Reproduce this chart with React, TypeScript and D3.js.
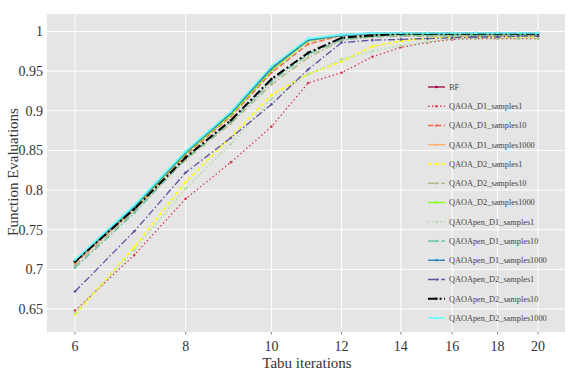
import * as d3 from "d3";
import React from "react";

// tabu iterations (x values)
const iterations = [6, 7, 8, 9, 10, 11, 12, 13, 14, 15, 16, 17, 18, 19, 20];

const seriesNames = [
  "BF",
  "QAOA_D1_samples1",
  "QAOA_D1_samples10",
  "QAOA_D1_samples1000",
  "QAOA_D2_samples1",
  "QAOA_D2_samples10",
  "QAOA_D2_samples1000",
  "QAOApen_D1_samples1",
  "QAOApen_D1_samples10",
  "QAOApen_D1_samples1000",
  "QAOApen_D2_samples1",
  "QAOApen_D2_samples10",
  "QAOApen_D2_samples1000",
];

const bf = [0.711, 0.780, 0.848, 0.898, 0.954, 0.990, 0.996, 0.998, 0.998, 0.998, 0.998, 0.998, 0.998, 0.998, 0.998];
const qaoaD1s1 = [0.648, 0.718, 0.789, 0.835, 0.880, 0.935, 0.948, 0.968, 0.980, 0.986, 0.990, 0.991, 0.991, 0.991, 0.991];
const qaoaD1s10 = [0.708, 0.776, 0.844, 0.893, 0.948, 0.984, 0.995, 0.996, 0.996, 0.996, 0.996, 0.995, 0.995, 0.995, 0.995];
const qaoaD1s1000 = [0.711, 0.779, 0.847, 0.896, 0.952, 0.988, 0.995, 0.997, 0.997, 0.997, 0.997, 0.997, 0.997, 0.997, 0.997];
const qaoaD2s1 = [0.643, 0.728, 0.810, 0.867, 0.920, 0.946, 0.962, 0.981, 0.988, 0.991, 0.993, 0.993, 0.993, 0.993, 0.993];
const qaoaD2s10 = [0.705, 0.773, 0.838, 0.884, 0.933, 0.967, 0.989, 0.993, 0.994, 0.994, 0.994, 0.994, 0.994, 0.994, 0.994];
const qaoaD2s1000 = [0.710, 0.778, 0.846, 0.895, 0.951, 0.988, 0.995, 0.997, 0.997, 0.997, 0.997, 0.997, 0.997, 0.997, 0.997];
const penD1s1 = [0.645, 0.724, 0.802, 0.858, 0.915, 0.946, 0.965, 0.975, 0.982, 0.987, 0.991, 0.991, 0.991, 0.991, 0.991];
const penD1s10 = [0.702, 0.771, 0.840, 0.886, 0.937, 0.971, 0.990, 0.994, 0.995, 0.995, 0.995, 0.995, 0.995, 0.995, 0.995];
const penD1s1000 = [0.710, 0.779, 0.847, 0.897, 0.953, 0.989, 0.995, 0.997, 0.997, 0.997, 0.997, 0.997, 0.997, 0.997, 0.997];
const penD2s1 = [0.672, 0.748, 0.822, 0.866, 0.908, 0.952, 0.986, 0.989, 0.990, 0.991, 0.992, 0.993, 0.993, 0.994, 0.994];
const penD2s10 = [0.710, 0.776, 0.841, 0.888, 0.940, 0.973, 0.992, 0.995, 0.997, 0.997, 0.997, 0.997, 0.997, 0.997, 0.997];
const penD2s1000 = [0.712, 0.781, 0.849, 0.899, 0.956, 0.991, 0.996, 0.998, 0.998, 0.998, 0.998, 0.998, 0.998, 0.998, 0.998];

const seriesValues = [
  bf, qaoaD1s1, qaoaD1s10, qaoaD1s1000, qaoaD2s1, qaoaD2s10, qaoaD2s1000,
  penD1s1, penD1s10, penD1s1000, penD2s1, penD2s10, penD2s1000,
];

const xTicks = [6, 8, 10, 12, 14, 16, 18, 20];
const yTicks = [0.65, 0.7, 0.75, 0.8, 0.85, 0.9, 0.95, 1];

const colors = [
  "#9e0142", "#d53e4f", "#f46d43", "#fdae61", "#ffff00", "#b8b888", "#80ff00",
  "#abdda4", "#66c2a5", "#3288bd", "#5e4fa2", "#000000", "#66ffff",
];
const dashes = [
  null, "1.5,2.5", "5.5,2.4", null, "4,2.5", "7,2.4,1.5,2.4", null,
  "1.5,2.5", "7,2.4,1.5,2.4", null, "7,2.4,1.5,2.4", "9,2.6,2,2.6", null,
];
const widths = [1.3, 1.3, 1.5, 1.3, 1.5, 1.5, 1.3, 1.5, 1.5, 1.5, 1.3, 2, 1.6];

const W = 574;
const H = 370;
const plot = { left: 47, right: 565, top: 14, bottom: 332 };
const font = "Liberation Serif";

export default function App() {
  const x = d3.scaleLog().domain([6, 20]).range([75, 538]);
  const y = d3.scaleLinear().domain([0.621, 1.022]).range([plot.bottom, plot.top]);
  const line = d3
    .line<number>()
    .x((_, i) => x(iterations[i]))
    .y((d) => y(d));

  const legendX = 428;
  const legendY = 87;
  const legendStep = 19.25;

  return (
    <svg width={W} height={H} style={{ position: "absolute", left: 0, top: 0 }}>
      <rect x={0} y={0} width={W} height={H} fill="#fff" />
      <rect
        x={plot.left}
        y={plot.top}
        width={plot.right - plot.left}
        height={plot.bottom - plot.top}
        fill="#e5e5e5"
      />
      {yTicks.map((t) => (
        <g key={"y" + t}>
          <line x1={plot.left} x2={plot.right} y1={y(t)} y2={y(t)} stroke="#fff" strokeWidth={1} />
          <text x={43} y={y(t)} dy="0.35em" textAnchor="end" fontFamily={font} fontSize={14} fill="#333">
            {t}
          </text>
        </g>
      ))}
      {xTicks.map((t) => (
        <g key={"x" + t}>
          <line x1={x(t)} x2={x(t)} y1={plot.top} y2={plot.bottom} stroke="#fff" strokeWidth={1} />
          <line x1={x(t)} x2={x(t)} y1={plot.bottom} y2={plot.bottom + 2.5} stroke="#666" strokeWidth={0.8} />
          <text x={x(t)} y={346} dy="0.35em" textAnchor="middle" fontFamily={font} fontSize={14} fill="#333">
            {t}
          </text>
        </g>
      ))}
      {seriesValues.map((vals, s) => (
        <g key={seriesNames[s]}>
          <path
            d={line(vals) || ""}
            fill="none"
            stroke={colors[s]}
            strokeWidth={widths[s]}
            strokeDasharray={dashes[s] || undefined}
          />
          {vals.map((v, i) => (
            <circle key={i} cx={x(iterations[i])} cy={y(v)} r={1.3} fill={colors[s]} />
          ))}
        </g>
      ))}
      {seriesNames.map((name, s) => {
        const ly = legendY + s * legendStep;
        return (
          <g key={"leg" + name}>
            <line
              x1={legendX}
              x2={legendX + 17}
              y1={ly}
              y2={ly}
              stroke={colors[s]}
              strokeWidth={widths[s]}
              strokeDasharray={dashes[s] || undefined}
            />
            <circle cx={legendX + 8.5} cy={ly} r={1.3} fill={colors[s]} />
            <text x={legendX + 21} y={ly} dy="0.35em" fontFamily={font} fontSize={8.3} fill="#444">
              {name}
            </text>
          </g>
        );
      })}
      <text x={307} y={363} dy="0.35em" textAnchor="middle" fontFamily={font} fontSize={15} fill="#333">
        Tabu iterations
      </text>
      <text
        transform={`translate(13, 172) rotate(-90)`}
        textAnchor="middle"
        dy="0.35em"
        fontFamily={font}
        fontSize={15}
        fill="#333"
      >
        Function Evaluations
      </text>
    </svg>
  );
}
